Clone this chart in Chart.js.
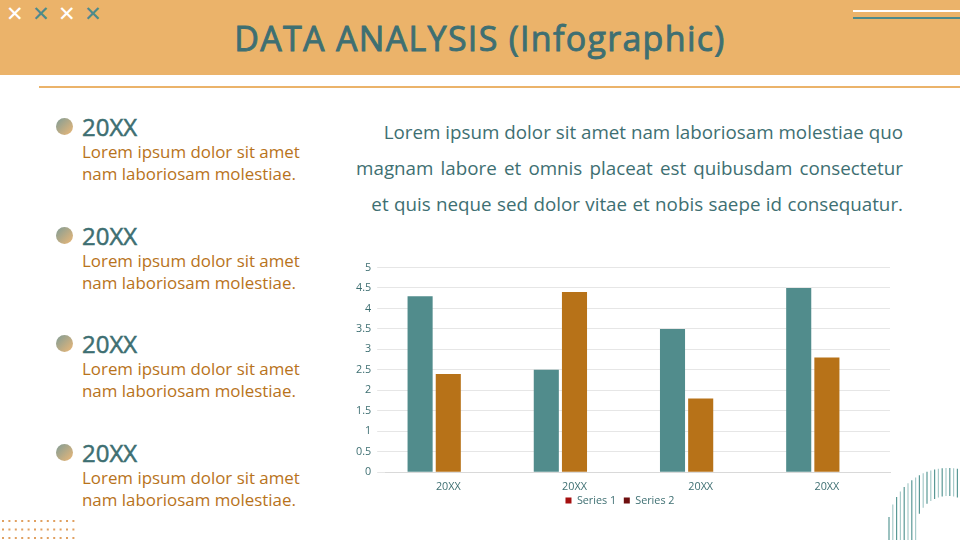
<!DOCTYPE html>
<html>
<head>
<meta charset="utf-8">
<script src="https://cdn.jsdelivr.net/npm/chart.js@4.4.1/dist/chart.umd.min.js"></script>
<style>
  body { margin: 0; width: 960px; height: 540px; overflow: hidden; background: #fff; font-family: "Open Sans", sans-serif; position: relative; }
  .band { position: absolute; left: 0; top: 0; width: 960px; height: 75px; background: #ebb36a; }
  .title { position: absolute; left: 0; top: 15px; width: 960px; text-align: center; font-size: 34px; letter-spacing: 1.3px; color: #3e6f72; -webkit-text-stroke: 0.9px #3e6f72; }
  .rule { position: absolute; left: 39px; top: 86px; width: 921px; height: 2px; background: #ebb36a; }
  .x { position: absolute; top: 3px; font-size: 21px; line-height: 21px; }
  .item { position: absolute; left: 56px; }
  .dot { position: absolute; left: 0; top: 1px; width: 17px; height: 17px; border-radius: 50%; background: linear-gradient(135deg, #7f9c96, #edb877); }
  .year { position: absolute; left: 26px; top: -7px; font-size: 24px; color: #3e6f72; -webkit-text-stroke: 0.5px #3e6f72; white-space: nowrap; }
  .desc { position: absolute; left: 26px; top: 24px; font-size: 16.9px; line-height: 22px; color: #b8731b; white-space: nowrap; }
  .para { position: absolute; right: 57px; top: 114px; text-align: right; font-size: 18.8px; line-height: 36px; color: #3e6f72; white-space: nowrap; }
  #wrap { position: absolute; left: 350px; top: 255px; width: 550px; height: 261px; }
</style>
</head>
<body>
<div class="band"></div>
<div class="x" style="left:6px;color:#fff">&#x2715;</div>
<div class="x" style="left:32px;color:#4d8a8c">&#x2715;</div>
<div class="x" style="left:58px;color:#fff">&#x2715;</div>
<div class="x" style="left:84px;color:#4d8a8c">&#x2715;</div>
<div style="position:absolute;left:853px;top:10px;width:107px;height:2px;background:#fff"></div>
<div style="position:absolute;left:853px;top:17px;width:107px;height:2px;background:#4d8a8c"></div>
<div class="title">DATA ANALYSIS (Infographic)</div>
<div class="rule"></div>

<div id="items"></div>

<div class="para" id="para"></div>

<div id="wrap"><canvas id="chart"></canvas></div>
<canvas id="deco" width="960" height="540" style="position:absolute;left:0;top:0;pointer-events:none"></canvas>

<script>
const categories = ["20XX", "20XX", "20XX", "20XX"];
const seriesNames = ["Series 1", "Series 2"];
const series1 = [4.3, 2.5, 3.5, 4.5];
const series2 = [2.4, 4.4, 1.8, 2.8];
const emptySlot = [null, null, null, null]; // third, empty column slot in each group
const barColors = ["#518c8c", "#b77218"];
const legendColors = ["#a50f0f", "#6e0f0f"];
const yTicks = [0, 0.5, 1, 1.5, 2, 2.5, 3, 3.5, 4, 4.5, 5];

const itemYears = ["20XX", "20XX", "20XX", "20XX"];
const itemLines = ["Lorem ipsum dolor sit amet", "nam laboriosam molestiae."];
const paraLines = [
  "Lorem ipsum dolor sit amet nam laboriosam molestiae quo",
  "magnam labore et omnis placeat est quibusdam consectetur",
  "et quis neque sed dolor vitae et nobis saepe id consequatur.",
];
const paraWordSpacing = [0, 2.3, 0.5];

document.getElementById("para").innerHTML = paraLines
  .map((l, i) => `<span style="word-spacing:${paraWordSpacing[i]}px">${l}</span>`)
  .join("<br>");

// left list
const items = document.getElementById("items");
itemYears.forEach((y, i) => {
  const el = document.createElement("div");
  el.className = "item";
  el.style.top = 117 + i * 108.5 + "px";
  el.innerHTML = `<div class="dot"></div><div class="year">${y}</div><div class="desc">${itemLines.join("<br>")}</div>`;
  items.appendChild(el);
});

const tickFont = { family: "Open Sans", size: 10.8 };
const ctx = document.getElementById("chart").getContext("2d");
new Chart(ctx, {
  type: "bar",
  data: {
    labels: categories,
    datasets: [
      { label: seriesNames[0], data: series1, backgroundColor: barColors[0] },
      { label: seriesNames[1], data: series2, backgroundColor: barColors[1] },
      { label: "", data: emptySlot, backgroundColor: "transparent" },
    ],
  },
  options: {
    responsive: true,
    maintainAspectRatio: false,
    animation: false,
    categoryPercentage: 0.67,
    barPercentage: 0.89,
    layout: { padding: { right: 10, top: 6 } },
    plugins: {
      tooltip: { enabled: false },
      legend: {
        position: "bottom",
        labels: {
          font: tickFont,
          color: "#3e6f72",
          boxWidth: 6,
          boxHeight: 6,
          padding: 2,
          // trailing spaces on all but the last entry widen the gap between items
          generateLabels: (chart) =>
            seriesNames.map((name, i) => ({
              text: i < seriesNames.length - 1 ? name + "\u00a0\u00a0" : name,
              fillStyle: legendColors[i],
              strokeStyle: legendColors[i],
              lineWidth: 0,
              fontColor: "#3e6f72",
              datasetIndex: i,
            })),
        },
      },
    },
    scales: {
      x: {
        grid: { display: false },
        border: { color: "#d9d9d9" },
        ticks: { font: tickFont, color: "#3e6f72", padding: 0 },
      },
      y: {
        min: 0,
        max: 5,
        afterBuildTicks: (axis) => { axis.ticks = yTicks.map((v) => ({ value: v })); },
        grid: { color: "#e6e6e6" },
        border: { display: false },
        ticks: { font: tickFont, color: "#3e6f72", padding: 6, callback: (v) => String(v) },
      },
    },
  },
});

// decorations: dotted grid bottom-left, arc of strokes bottom-right
const d = document.getElementById("deco").getContext("2d");
d.fillStyle = "#e0a060";
for (let r = 0; r < 3; r++) {
  for (let c = 0; c < 12; c++) {
    d.fillRect(2 + c * 6.4, 520 + r * 8.5, 2, 2);
  }
}
const cx = 948, cy = 528, outer = 60, inner = 32;
for (let i = 0, x = 889; x < 960; x += 3.8, i++) {
  const dx = x - cx;
  if (Math.abs(dx) > outer) continue;
  const top = cy - Math.sqrt(outer * outer - dx * dx);
  let bottom = 540;
  if (Math.abs(dx) < inner) bottom = cy - Math.sqrt(inner * inner - dx * dx);
  d.strokeStyle = i % 2 ? "#a7cbca" : "#5a9996";
  d.lineWidth = 1.2;
  d.beginPath();
  d.moveTo(x, top);
  d.lineTo(x, bottom);
  d.stroke();
}
</script>
</body>
</html>
